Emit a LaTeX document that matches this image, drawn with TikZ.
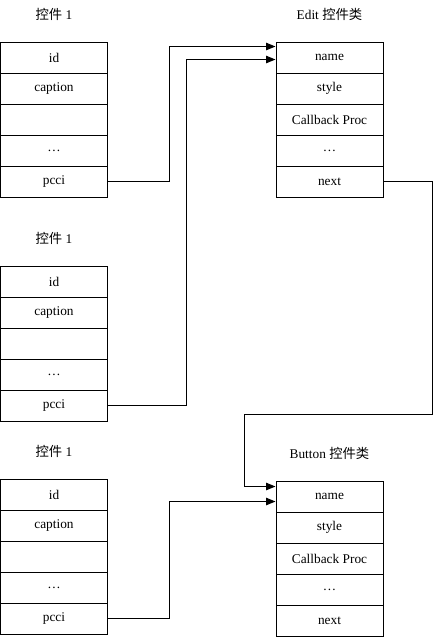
\documentclass[tikz,border=0pt]{standalone}
\usepackage{fontspec}
\setmainfont{Liberation Serif}
\newfontfamily\cjk{Noto Sans CJK SC}
\usetikzlibrary{arrows.meta,calc,positioning}

\begin{document}
\begin{tikzpicture}[>={Triangle[length=7pt,width=5.5pt]}, x=0.75pt, y=-0.75pt,
    font=\fontsize{10}{12}\selectfont, line width=0.75pt,
    field/.style={draw, minimum width=80.25pt, minimum height=23.25pt, inner sep=0pt},
    title/.style={inner sep=1pt}]
  \useasboundingbox (0,0) rectangle (434,637);
  % the three control structs on the left
  \foreach \top/\s in {42/A,266/B,479/C} {
    \node[title] (T\s) at (54,\top-28) {{\cjk 控件} 1};
    \foreach \i/\txt in {0/id,1/caption,2/{},3/{\ldots},4/pcci}
      {\node[field] (\s\i) at (54,\top+15.5+31*\i) {\txt};}
  }
  % the two control classes on the right
  \foreach \top/\s/\cls in {42/E/Edit,481/U/Button} {
    \node[title] (T\s) at (329.5,\top-28) {\cls\ {\cjk 控件类}};
    \foreach \i/\txt in {0/name,1/style,2/Callback Proc,3/{\ldots},4/next}
      {\node[field] (\s\i) at (329.5,\top+15.5+31*\i) {\txt};}
  }
  \coordinate (turn) at (244,414);
  \draw[->] (A4.east) -- ++(61,0) |- ($(E0.north west)+(0,5)$);
  \draw[->] (B4.east) -- ++(78,0) |- ($(E0.north west)+(0,18)$);
  \draw[->] (E4.east) -- ++(49,0) |- (turn) |- ($(U0.north west)+(0,6)$);
  \draw[->] (C4.east) -- ++(61,0) |- ($(U0.north west)+(0,21)$);
\end{tikzpicture}
\end{document}
